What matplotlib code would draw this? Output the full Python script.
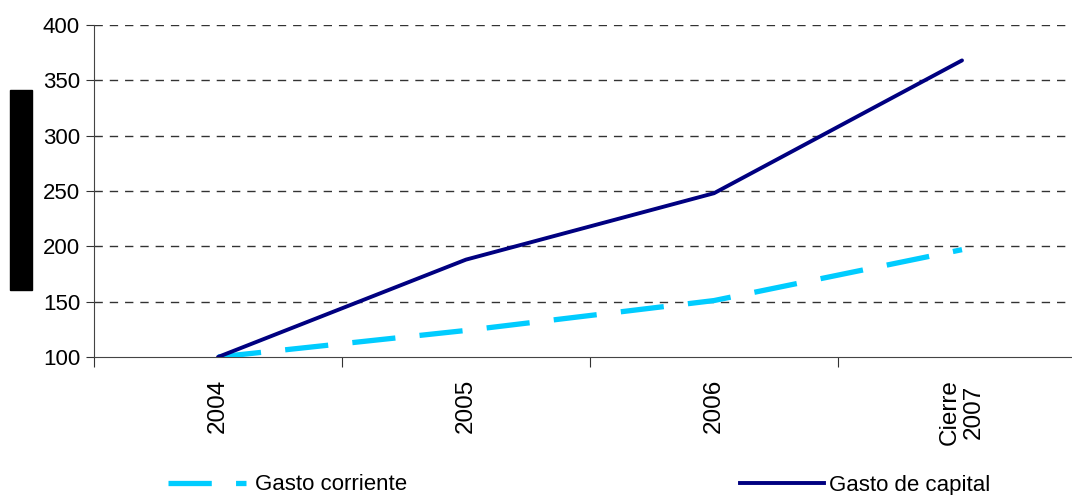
import matplotlib
matplotlib.use("Agg")
import matplotlib.pyplot as plt
from matplotlib.patches import Rectangle
from matplotlib.lines import Line2D

categories = ["2004", "2005", "2006", "Cierre\n2007"]
gasto_corriente = [100, 124, 151, 197]
gasto_capital = [100, 188, 248, 368]
y_ticks = [100, 150, 200, 250, 300, 350, 400]

plt.rcParams['font.family'] = ['Liberation Sans', 'DejaVu Sans']

W, H = 1072, 495
fig = plt.figure(figsize=(W / 100, H / 100), dpi=100)
left, right, top, bottom = 94, 1086, 25, 357
ax = fig.add_axes([left / W, 1 - bottom / H, (right - left) / W, (bottom - top) / H])

x = list(range(len(categories)))
ax.plot(x, gasto_corriente, color='#00CCFF', lw=3.8, dashes=(8.2, 4.6),
        solid_capstyle='butt', dash_capstyle='butt', zorder=3)
ax.plot(x, gasto_capital, color='#000080', lw=2.8, solid_capstyle='round', zorder=4)

ax.set_xlim(-0.5, 3.5)
ax.set_ylim(100, 400)
ax.set_yticks(y_ticks)
ax.set_yticklabels([str(v) for v in y_ticks], fontsize=16)
for v in y_ticks[1:]:
    ax.axhline(v, color='#333333', lw=1, dashes=(6, 5), zorder=1)

ax.set_xticks([-0.5, 0.5, 1.5, 2.5, 3.5])
ax.set_xticklabels([])
ax.set_xticks(x, minor=True)
ax.set_xticklabels(categories, minor=True, rotation=90, fontsize=17.5,
                   va='top', ha='center', linespacing=1.1)
ax.tick_params(axis='x', which='minor', length=0, pad=16)
ax.tick_params(axis='x', which='major', direction='out', length=7, color='#333333')
ax.tick_params(axis='y', direction='out', length=6, color='#333333', pad=4)

for s in ['top', 'right']:
    ax.spines[s].set_visible(False)
ax.spines['left'].set_color('#444444')
ax.spines['bottom'].set_color('#444444')

fig.patches.append(Rectangle((10 / W, 1 - 290 / H), 22 / W, 200 / H,
                             transform=fig.transFigure, color='black', zorder=5))

h1 = Line2D([], [], color='#00CCFF', lw=3.8, dashes=(8.2, 4.6), dash_capstyle='butt')
h2 = Line2D([], [], color='#000080', lw=2.8)
fig.legend([h1], ['Gasto corriente'], loc='center left', bbox_to_anchor=(168 / W, 1 - 485 / H),
           frameon=False, fontsize=16, handlelength=3.5, handletextpad=0.4, borderpad=0, borderaxespad=0)
fig.legend([h2], ['Gasto de capital'], loc='center left', bbox_to_anchor=(740 / W, 1 - 485 / H),
           frameon=False, fontsize=16, handlelength=3.8, handletextpad=0.2, borderpad=0, borderaxespad=0)

fig.savefig('out.png', dpi=100)
